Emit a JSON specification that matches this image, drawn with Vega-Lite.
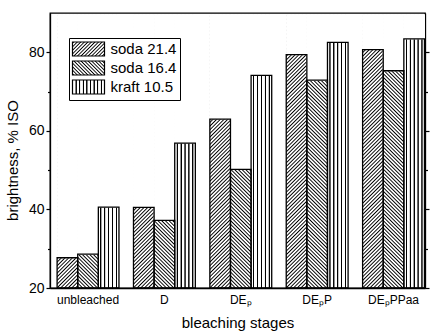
{
"$schema":"https://vega.github.io/schema/vega-lite/v6.json",
"width":375,"height":275,
"autosize":{"type":"none"},
"padding":{"left":50,"top":13,"right":5,"bottom":43},
"background":"white",
"config":{
"view":{"stroke":"#000","strokeWidth":1.3},
"font":"Arial",
"axis":{"labelFont":"Arial","titleFont":"Arial","labelColor":"#000","titleColor":"#000","domainColor":"#000","tickColor":"#000","domainWidth":1.3,"tickWidth":1.2,"grid":false,"titleFontWeight":"normal"}
},
"data":{"values":[
{"stage":"unbleached","pulp":"soda 21.4","value":27.7},
{"stage":"unbleached","pulp":"soda 16.4","value":28.6},
{"stage":"unbleached","pulp":"kraft 10.5","value":40.6},
{"stage":"D","pulp":"soda 21.4","value":40.5},
{"stage":"D","pulp":"soda 16.4","value":37.2},
{"stage":"D","pulp":"kraft 10.5","value":56.9},
{"stage":"DEₚ","pulp":"soda 21.4","value":63.0},
{"stage":"DEₚ","pulp":"soda 16.4","value":50.2},
{"stage":"DEₚ","pulp":"kraft 10.5","value":74.1},
{"stage":"DEₚP","pulp":"soda 21.4","value":79.4},
{"stage":"DEₚP","pulp":"soda 16.4","value":72.9},
{"stage":"DEₚP","pulp":"kraft 10.5","value":82.5},
{"stage":"DEₚPPaa","pulp":"soda 21.4","value":80.7},
{"stage":"DEₚPPaa","pulp":"soda 16.4","value":75.3},
{"stage":"DEₚPPaa","pulp":"kraft 10.5","value":83.4}
]},
"encoding":{
"x":{"field":"stage","type":"nominal","sort":null,"scale":{"paddingInner":0.19,"paddingOuter":0.05,"align":0.93},"axis":{"title":"bleaching stages","labelAngle":0,"ticks":false,"labelFontSize":12,"labelPadding":6,"titleFontSize":15,"titlePadding":10}},
"xOffset":{"field":"pulp","type":"nominal","sort":null,"scale":{"paddingInner":0,"paddingOuter":0}}
},
"layer":[
{"mark":{"type":"bar"},
"encoding":{
"y":{"datum":20,"type":"quantitative","scale":{"domain":[20,90],"nice":false,"zero":false},"axis":{"orient":"left","values":[20,30,40,50,60,70,80],"labelExpr":"datum.value % 20 === 0 ? datum.label : ''","tickSize":{"condition":{"test":"datum.value % 20 === 0","value":4},"value":2.5},"labelFontSize":14,"labelPadding":2,"labelOverlap":false,"labelFlush":false,"title":"brightness, % ISO","titleFontSize":15,"titlePadding":8,"titleY":147}},
"y2":{"datum":89.6},
"fill":{"field":"pulp","type":"nominal","sort":null,"legend":null,"scale":{"range":[
{"expr":"{gradient:'linear',x1:0,y1:0,x2:0.0804,y2:1.0692,stops:[{offset:0,color:'#fff'},{offset:0.0045,color:'#000'},{offset:0.009,color:'#fff'},{offset:0.0125,color:'#fff'},{offset:0.017,color:'#000'},{offset:0.0215,color:'#fff'},{offset:0.025,color:'#fff'},{offset:0.0295,color:'#000'},{offset:0.034,color:'#fff'},{offset:0.0375,color:'#fff'},{offset:0.042,color:'#000'},{offset:0.0465,color:'#fff'},{offset:0.05,color:'#fff'},{offset:0.0545,color:'#000'},{offset:0.059,color:'#fff'},{offset:0.0625,color:'#fff'},{offset:0.067,color:'#000'},{offset:0.0715,color:'#fff'},{offset:0.075,color:'#fff'},{offset:0.0795,color:'#000'},{offset:0.084,color:'#fff'},{offset:0.0875,color:'#fff'},{offset:0.092,color:'#000'},{offset:0.0965,color:'#fff'},{offset:0.1,color:'#fff'},{offset:0.1045,color:'#000'},{offset:0.109,color:'#fff'},{offset:0.1125,color:'#fff'},{offset:0.117,color:'#000'},{offset:0.1215,color:'#fff'},{offset:0.125,color:'#fff'},{offset:0.1295,color:'#000'},{offset:0.134,color:'#fff'},{offset:0.1375,color:'#fff'},{offset:0.142,color:'#000'},{offset:0.1465,color:'#fff'},{offset:0.15,color:'#fff'},{offset:0.1545,color:'#000'},{offset:0.159,color:'#fff'},{offset:0.1625,color:'#fff'},{offset:0.167,color:'#000'},{offset:0.1715,color:'#fff'},{offset:0.175,color:'#fff'},{offset:0.1795,color:'#000'},{offset:0.184,color:'#fff'},{offset:0.1875,color:'#fff'},{offset:0.192,color:'#000'},{offset:0.1965,color:'#fff'},{offset:0.2,color:'#fff'},{offset:0.2045,color:'#000'},{offset:0.209,color:'#fff'},{offset:0.2125,color:'#fff'},{offset:0.217,color:'#000'},{offset:0.2215,color:'#fff'},{offset:0.225,color:'#fff'},{offset:0.2295,color:'#000'},{offset:0.234,color:'#fff'},{offset:0.2375,color:'#fff'},{offset:0.242,color:'#000'},{offset:0.2465,color:'#fff'},{offset:0.25,color:'#fff'},{offset:0.2545,color:'#000'},{offset:0.259,color:'#fff'},{offset:0.2625,color:'#fff'},{offset:0.267,color:'#000'},{offset:0.2715,color:'#fff'},{offset:0.275,color:'#fff'},{offset:0.2795,color:'#000'},{offset:0.284,color:'#fff'},{offset:0.2875,color:'#fff'},{offset:0.292,color:'#000'},{offset:0.2965,color:'#fff'},{offset:0.3,color:'#fff'},{offset:0.3045,color:'#000'},{offset:0.309,color:'#fff'},{offset:0.3125,color:'#fff'},{offset:0.317,color:'#000'},{offset:0.3215,color:'#fff'},{offset:0.325,color:'#fff'},{offset:0.3295,color:'#000'},{offset:0.334,color:'#fff'},{offset:0.3375,color:'#fff'},{offset:0.342,color:'#000'},{offset:0.3465,color:'#fff'},{offset:0.35,color:'#fff'},{offset:0.3545,color:'#000'},{offset:0.359,color:'#fff'},{offset:0.3625,color:'#fff'},{offset:0.367,color:'#000'},{offset:0.3715,color:'#fff'},{offset:0.375,color:'#fff'},{offset:0.3795,color:'#000'},{offset:0.384,color:'#fff'},{offset:0.3875,color:'#fff'},{offset:0.392,color:'#000'},{offset:0.3965,color:'#fff'},{offset:0.4,color:'#fff'},{offset:0.4045,color:'#000'},{offset:0.409,color:'#fff'},{offset:0.4125,color:'#fff'},{offset:0.417,color:'#000'},{offset:0.4215,color:'#fff'},{offset:0.425,color:'#fff'},{offset:0.4295,color:'#000'},{offset:0.434,color:'#fff'},{offset:0.4375,color:'#fff'},{offset:0.442,color:'#000'},{offset:0.4465,color:'#fff'},{offset:0.45,color:'#fff'},{offset:0.4545,color:'#000'},{offset:0.459,color:'#fff'},{offset:0.4625,color:'#fff'},{offset:0.467,color:'#000'},{offset:0.4715,color:'#fff'},{offset:0.475,color:'#fff'},{offset:0.4795,color:'#000'},{offset:0.484,color:'#fff'},{offset:0.4875,color:'#fff'},{offset:0.492,color:'#000'},{offset:0.4965,color:'#fff'},{offset:0.5,color:'#fff'},{offset:0.5045,color:'#000'},{offset:0.509,color:'#fff'},{offset:0.5125,color:'#fff'},{offset:0.517,color:'#000'},{offset:0.5215,color:'#fff'},{offset:0.525,color:'#fff'},{offset:0.5295,color:'#000'},{offset:0.534,color:'#fff'},{offset:0.5375,color:'#fff'},{offset:0.542,color:'#000'},{offset:0.5465,color:'#fff'},{offset:0.55,color:'#fff'},{offset:0.5545,color:'#000'},{offset:0.559,color:'#fff'},{offset:0.5625,color:'#fff'},{offset:0.567,color:'#000'},{offset:0.5715,color:'#fff'},{offset:0.575,color:'#fff'},{offset:0.5795,color:'#000'},{offset:0.584,color:'#fff'},{offset:0.5875,color:'#fff'},{offset:0.592,color:'#000'},{offset:0.5965,color:'#fff'},{offset:0.6,color:'#fff'},{offset:0.6045,color:'#000'},{offset:0.609,color:'#fff'},{offset:0.6125,color:'#fff'},{offset:0.617,color:'#000'},{offset:0.6215,color:'#fff'},{offset:0.625,color:'#fff'},{offset:0.6295,color:'#000'},{offset:0.634,color:'#fff'},{offset:0.6375,color:'#fff'},{offset:0.642,color:'#000'},{offset:0.6465,color:'#fff'},{offset:0.65,color:'#fff'},{offset:0.6545,color:'#000'},{offset:0.659,color:'#fff'},{offset:0.6625,color:'#fff'},{offset:0.667,color:'#000'},{offset:0.6715,color:'#fff'},{offset:0.675,color:'#fff'},{offset:0.6795,color:'#000'},{offset:0.684,color:'#fff'},{offset:0.6875,color:'#fff'},{offset:0.692,color:'#000'},{offset:0.6965,color:'#fff'},{offset:0.7,color:'#fff'},{offset:0.7045,color:'#000'},{offset:0.709,color:'#fff'},{offset:0.7125,color:'#fff'},{offset:0.717,color:'#000'},{offset:0.7215,color:'#fff'},{offset:0.725,color:'#fff'},{offset:0.7295,color:'#000'},{offset:0.734,color:'#fff'},{offset:0.7375,color:'#fff'},{offset:0.742,color:'#000'},{offset:0.7465,color:'#fff'},{offset:0.75,color:'#fff'},{offset:0.7545,color:'#000'},{offset:0.759,color:'#fff'},{offset:0.7625,color:'#fff'},{offset:0.767,color:'#000'},{offset:0.7715,color:'#fff'},{offset:0.775,color:'#fff'},{offset:0.7795,color:'#000'},{offset:0.784,color:'#fff'},{offset:0.7875,color:'#fff'},{offset:0.792,color:'#000'},{offset:0.7965,color:'#fff'},{offset:0.8,color:'#fff'},{offset:0.8045,color:'#000'},{offset:0.809,color:'#fff'},{offset:0.8125,color:'#fff'},{offset:0.817,color:'#000'},{offset:0.8215,color:'#fff'},{offset:0.825,color:'#fff'},{offset:0.8295,color:'#000'},{offset:0.834,color:'#fff'},{offset:0.8375,color:'#fff'},{offset:0.842,color:'#000'},{offset:0.8465,color:'#fff'},{offset:0.85,color:'#fff'},{offset:0.8545,color:'#000'},{offset:0.859,color:'#fff'},{offset:0.8625,color:'#fff'},{offset:0.867,color:'#000'},{offset:0.8715,color:'#fff'},{offset:0.875,color:'#fff'},{offset:0.8795,color:'#000'},{offset:0.884,color:'#fff'},{offset:0.8875,color:'#fff'},{offset:0.892,color:'#000'},{offset:0.8965,color:'#fff'},{offset:0.9,color:'#fff'},{offset:0.9045,color:'#000'},{offset:0.909,color:'#fff'},{offset:0.9125,color:'#fff'},{offset:0.917,color:'#000'},{offset:0.9215,color:'#fff'},{offset:0.925,color:'#fff'},{offset:0.9295,color:'#000'},{offset:0.934,color:'#fff'},{offset:0.9375,color:'#fff'},{offset:0.942,color:'#000'},{offset:0.9465,color:'#fff'},{offset:0.95,color:'#fff'},{offset:0.9545,color:'#000'},{offset:0.959,color:'#fff'},{offset:0.9625,color:'#fff'},{offset:0.967,color:'#000'},{offset:0.9715,color:'#fff'},{offset:0.975,color:'#fff'},{offset:0.9795,color:'#000'},{offset:0.984,color:'#fff'},{offset:0.9875,color:'#fff'},{offset:0.992,color:'#000'},{offset:0.9965,color:'#fff'}]}"},
{"expr":"{gradient:'linear',x1:0,y1:1,x2:0.0804,y2:-0.0692,stops:[{offset:0,color:'#fff'},{offset:0.0045,color:'#000'},{offset:0.009,color:'#fff'},{offset:0.0125,color:'#fff'},{offset:0.017,color:'#000'},{offset:0.0215,color:'#fff'},{offset:0.025,color:'#fff'},{offset:0.0295,color:'#000'},{offset:0.034,color:'#fff'},{offset:0.0375,color:'#fff'},{offset:0.042,color:'#000'},{offset:0.0465,color:'#fff'},{offset:0.05,color:'#fff'},{offset:0.0545,color:'#000'},{offset:0.059,color:'#fff'},{offset:0.0625,color:'#fff'},{offset:0.067,color:'#000'},{offset:0.0715,color:'#fff'},{offset:0.075,color:'#fff'},{offset:0.0795,color:'#000'},{offset:0.084,color:'#fff'},{offset:0.0875,color:'#fff'},{offset:0.092,color:'#000'},{offset:0.0965,color:'#fff'},{offset:0.1,color:'#fff'},{offset:0.1045,color:'#000'},{offset:0.109,color:'#fff'},{offset:0.1125,color:'#fff'},{offset:0.117,color:'#000'},{offset:0.1215,color:'#fff'},{offset:0.125,color:'#fff'},{offset:0.1295,color:'#000'},{offset:0.134,color:'#fff'},{offset:0.1375,color:'#fff'},{offset:0.142,color:'#000'},{offset:0.1465,color:'#fff'},{offset:0.15,color:'#fff'},{offset:0.1545,color:'#000'},{offset:0.159,color:'#fff'},{offset:0.1625,color:'#fff'},{offset:0.167,color:'#000'},{offset:0.1715,color:'#fff'},{offset:0.175,color:'#fff'},{offset:0.1795,color:'#000'},{offset:0.184,color:'#fff'},{offset:0.1875,color:'#fff'},{offset:0.192,color:'#000'},{offset:0.1965,color:'#fff'},{offset:0.2,color:'#fff'},{offset:0.2045,color:'#000'},{offset:0.209,color:'#fff'},{offset:0.2125,color:'#fff'},{offset:0.217,color:'#000'},{offset:0.2215,color:'#fff'},{offset:0.225,color:'#fff'},{offset:0.2295,color:'#000'},{offset:0.234,color:'#fff'},{offset:0.2375,color:'#fff'},{offset:0.242,color:'#000'},{offset:0.2465,color:'#fff'},{offset:0.25,color:'#fff'},{offset:0.2545,color:'#000'},{offset:0.259,color:'#fff'},{offset:0.2625,color:'#fff'},{offset:0.267,color:'#000'},{offset:0.2715,color:'#fff'},{offset:0.275,color:'#fff'},{offset:0.2795,color:'#000'},{offset:0.284,color:'#fff'},{offset:0.2875,color:'#fff'},{offset:0.292,color:'#000'},{offset:0.2965,color:'#fff'},{offset:0.3,color:'#fff'},{offset:0.3045,color:'#000'},{offset:0.309,color:'#fff'},{offset:0.3125,color:'#fff'},{offset:0.317,color:'#000'},{offset:0.3215,color:'#fff'},{offset:0.325,color:'#fff'},{offset:0.3295,color:'#000'},{offset:0.334,color:'#fff'},{offset:0.3375,color:'#fff'},{offset:0.342,color:'#000'},{offset:0.3465,color:'#fff'},{offset:0.35,color:'#fff'},{offset:0.3545,color:'#000'},{offset:0.359,color:'#fff'},{offset:0.3625,color:'#fff'},{offset:0.367,color:'#000'},{offset:0.3715,color:'#fff'},{offset:0.375,color:'#fff'},{offset:0.3795,color:'#000'},{offset:0.384,color:'#fff'},{offset:0.3875,color:'#fff'},{offset:0.392,color:'#000'},{offset:0.3965,color:'#fff'},{offset:0.4,color:'#fff'},{offset:0.4045,color:'#000'},{offset:0.409,color:'#fff'},{offset:0.4125,color:'#fff'},{offset:0.417,color:'#000'},{offset:0.4215,color:'#fff'},{offset:0.425,color:'#fff'},{offset:0.4295,color:'#000'},{offset:0.434,color:'#fff'},{offset:0.4375,color:'#fff'},{offset:0.442,color:'#000'},{offset:0.4465,color:'#fff'},{offset:0.45,color:'#fff'},{offset:0.4545,color:'#000'},{offset:0.459,color:'#fff'},{offset:0.4625,color:'#fff'},{offset:0.467,color:'#000'},{offset:0.4715,color:'#fff'},{offset:0.475,color:'#fff'},{offset:0.4795,color:'#000'},{offset:0.484,color:'#fff'},{offset:0.4875,color:'#fff'},{offset:0.492,color:'#000'},{offset:0.4965,color:'#fff'},{offset:0.5,color:'#fff'},{offset:0.5045,color:'#000'},{offset:0.509,color:'#fff'},{offset:0.5125,color:'#fff'},{offset:0.517,color:'#000'},{offset:0.5215,color:'#fff'},{offset:0.525,color:'#fff'},{offset:0.5295,color:'#000'},{offset:0.534,color:'#fff'},{offset:0.5375,color:'#fff'},{offset:0.542,color:'#000'},{offset:0.5465,color:'#fff'},{offset:0.55,color:'#fff'},{offset:0.5545,color:'#000'},{offset:0.559,color:'#fff'},{offset:0.5625,color:'#fff'},{offset:0.567,color:'#000'},{offset:0.5715,color:'#fff'},{offset:0.575,color:'#fff'},{offset:0.5795,color:'#000'},{offset:0.584,color:'#fff'},{offset:0.5875,color:'#fff'},{offset:0.592,color:'#000'},{offset:0.5965,color:'#fff'},{offset:0.6,color:'#fff'},{offset:0.6045,color:'#000'},{offset:0.609,color:'#fff'},{offset:0.6125,color:'#fff'},{offset:0.617,color:'#000'},{offset:0.6215,color:'#fff'},{offset:0.625,color:'#fff'},{offset:0.6295,color:'#000'},{offset:0.634,color:'#fff'},{offset:0.6375,color:'#fff'},{offset:0.642,color:'#000'},{offset:0.6465,color:'#fff'},{offset:0.65,color:'#fff'},{offset:0.6545,color:'#000'},{offset:0.659,color:'#fff'},{offset:0.6625,color:'#fff'},{offset:0.667,color:'#000'},{offset:0.6715,color:'#fff'},{offset:0.675,color:'#fff'},{offset:0.6795,color:'#000'},{offset:0.684,color:'#fff'},{offset:0.6875,color:'#fff'},{offset:0.692,color:'#000'},{offset:0.6965,color:'#fff'},{offset:0.7,color:'#fff'},{offset:0.7045,color:'#000'},{offset:0.709,color:'#fff'},{offset:0.7125,color:'#fff'},{offset:0.717,color:'#000'},{offset:0.7215,color:'#fff'},{offset:0.725,color:'#fff'},{offset:0.7295,color:'#000'},{offset:0.734,color:'#fff'},{offset:0.7375,color:'#fff'},{offset:0.742,color:'#000'},{offset:0.7465,color:'#fff'},{offset:0.75,color:'#fff'},{offset:0.7545,color:'#000'},{offset:0.759,color:'#fff'},{offset:0.7625,color:'#fff'},{offset:0.767,color:'#000'},{offset:0.7715,color:'#fff'},{offset:0.775,color:'#fff'},{offset:0.7795,color:'#000'},{offset:0.784,color:'#fff'},{offset:0.7875,color:'#fff'},{offset:0.792,color:'#000'},{offset:0.7965,color:'#fff'},{offset:0.8,color:'#fff'},{offset:0.8045,color:'#000'},{offset:0.809,color:'#fff'},{offset:0.8125,color:'#fff'},{offset:0.817,color:'#000'},{offset:0.8215,color:'#fff'},{offset:0.825,color:'#fff'},{offset:0.8295,color:'#000'},{offset:0.834,color:'#fff'},{offset:0.8375,color:'#fff'},{offset:0.842,color:'#000'},{offset:0.8465,color:'#fff'},{offset:0.85,color:'#fff'},{offset:0.8545,color:'#000'},{offset:0.859,color:'#fff'},{offset:0.8625,color:'#fff'},{offset:0.867,color:'#000'},{offset:0.8715,color:'#fff'},{offset:0.875,color:'#fff'},{offset:0.8795,color:'#000'},{offset:0.884,color:'#fff'},{offset:0.8875,color:'#fff'},{offset:0.892,color:'#000'},{offset:0.8965,color:'#fff'},{offset:0.9,color:'#fff'},{offset:0.9045,color:'#000'},{offset:0.909,color:'#fff'},{offset:0.9125,color:'#fff'},{offset:0.917,color:'#000'},{offset:0.9215,color:'#fff'},{offset:0.925,color:'#fff'},{offset:0.9295,color:'#000'},{offset:0.934,color:'#fff'},{offset:0.9375,color:'#fff'},{offset:0.942,color:'#000'},{offset:0.9465,color:'#fff'},{offset:0.95,color:'#fff'},{offset:0.9545,color:'#000'},{offset:0.959,color:'#fff'},{offset:0.9625,color:'#fff'},{offset:0.967,color:'#000'},{offset:0.9715,color:'#fff'},{offset:0.975,color:'#fff'},{offset:0.9795,color:'#000'},{offset:0.984,color:'#fff'},{offset:0.9875,color:'#fff'},{offset:0.992,color:'#000'},{offset:0.9965,color:'#fff'}]}"},
{"expr":"{gradient:'linear',x1:0,y1:0,x2:1,y2:0,stops:[{offset:0.081,color:'#fff'},{offset:0.103,color:'#000'},{offset:0.139,color:'#000'},{offset:0.161,color:'#fff'},{offset:0.271,color:'#fff'},{offset:0.293,color:'#000'},{offset:0.329,color:'#000'},{offset:0.351,color:'#fff'},{offset:0.46,color:'#fff'},{offset:0.482,color:'#000'},{offset:0.518,color:'#000'},{offset:0.54,color:'#fff'},{offset:0.649,color:'#fff'},{offset:0.671,color:'#000'},{offset:0.707,color:'#000'},{offset:0.729,color:'#fff'},{offset:0.839,color:'#fff'},{offset:0.861,color:'#000'},{offset:0.897,color:'#000'},{offset:0.919,color:'#fff'}]}"}
]}}
}},
{"mark":{"type":"bar","fill":"white","stroke":"white","strokeWidth":1},
"encoding":{
"y":{"field":"value","type":"quantitative","axis":null},
"y2":{"datum":89.6}
}},
{"mark":{"type":"bar","fillOpacity":0,"stroke":"#000","strokeWidth":1.3},
"encoding":{
"y":{"field":"value","type":"quantitative","axis":{"orient":"right","values":[20,30,40,50,60,70,80],"labels":false,"title":null,"tickSize":{"condition":{"test":"datum.value % 20 === 0","value":4},"value":2.5}}},
"y2":{"datum":20}
}},
{"mark":{"type":"bar","stroke":"#000","strokeWidth":1.2},
"encoding":{
"y":{"datum":20,"type":"quantitative","axis":null},
"y2":{"datum":20},
"color":{"field":"pulp","type":"nominal","sort":null,
"legend":{"orient":"none","legendX":19,"legendY":25,"title":null,"symbolType":"M-1.875,-1.75H6.125V1.75H-1.875Z","symbolSize":64,"symbolStrokeColor":"#000","symbolStrokeWidth":1.2,"labelFontSize":15,"labelFont":"Arial","labelColor":"#000","padding":3.5,"rowPadding":0,"strokeColor":"#000","fillColor":"white","labelOffset":23},
"scale":{"domain":["soda 21.4","soda 16.4","kraft 10.5"],"range":[
{"expr":"{gradient:'linear',x1:0,y1:0,x2:1.2066,y2:0.5279,stops:[{offset:0,color:'#fff'},{offset:0.0277,color:'#000'},{offset:0.0554,color:'#fff'},{offset:0.0769,color:'#fff'},{offset:0.1046,color:'#000'},{offset:0.1323,color:'#fff'},{offset:0.1538,color:'#fff'},{offset:0.1815,color:'#000'},{offset:0.2092,color:'#fff'},{offset:0.2308,color:'#fff'},{offset:0.2585,color:'#000'},{offset:0.2862,color:'#fff'},{offset:0.3077,color:'#fff'},{offset:0.3354,color:'#000'},{offset:0.3631,color:'#fff'},{offset:0.3846,color:'#fff'},{offset:0.4123,color:'#000'},{offset:0.44,color:'#fff'},{offset:0.4615,color:'#fff'},{offset:0.4892,color:'#000'},{offset:0.5169,color:'#fff'},{offset:0.5385,color:'#fff'},{offset:0.5662,color:'#000'},{offset:0.5939,color:'#fff'},{offset:0.6154,color:'#fff'},{offset:0.6431,color:'#000'},{offset:0.6708,color:'#fff'},{offset:0.6923,color:'#fff'},{offset:0.72,color:'#000'},{offset:0.7477,color:'#fff'},{offset:0.7692,color:'#fff'},{offset:0.7969,color:'#000'},{offset:0.8246,color:'#fff'},{offset:0.8462,color:'#fff'},{offset:0.8739,color:'#000'},{offset:0.9016,color:'#fff'},{offset:0.9231,color:'#fff'},{offset:0.9508,color:'#000'},{offset:0.9785,color:'#fff'}]}"},
{"expr":"{gradient:'linear',x1:0,y1:1,x2:1.2066,y2:0.4721,stops:[{offset:0,color:'#fff'},{offset:0.0277,color:'#000'},{offset:0.0554,color:'#fff'},{offset:0.0769,color:'#fff'},{offset:0.1046,color:'#000'},{offset:0.1323,color:'#fff'},{offset:0.1538,color:'#fff'},{offset:0.1815,color:'#000'},{offset:0.2092,color:'#fff'},{offset:0.2308,color:'#fff'},{offset:0.2585,color:'#000'},{offset:0.2862,color:'#fff'},{offset:0.3077,color:'#fff'},{offset:0.3354,color:'#000'},{offset:0.3631,color:'#fff'},{offset:0.3846,color:'#fff'},{offset:0.4123,color:'#000'},{offset:0.44,color:'#fff'},{offset:0.4615,color:'#fff'},{offset:0.4892,color:'#000'},{offset:0.5169,color:'#fff'},{offset:0.5385,color:'#fff'},{offset:0.5662,color:'#000'},{offset:0.5939,color:'#fff'},{offset:0.6154,color:'#fff'},{offset:0.6431,color:'#000'},{offset:0.6708,color:'#fff'},{offset:0.6923,color:'#fff'},{offset:0.72,color:'#000'},{offset:0.7477,color:'#fff'},{offset:0.7692,color:'#fff'},{offset:0.7969,color:'#000'},{offset:0.8246,color:'#fff'},{offset:0.8462,color:'#fff'},{offset:0.8739,color:'#000'},{offset:0.9016,color:'#fff'},{offset:0.9231,color:'#fff'},{offset:0.9508,color:'#000'},{offset:0.9785,color:'#fff'}]}"},
{"expr":"{gradient:'linear',x1:0,y1:0,x2:1,y2:0,stops:[{offset:0.0865,color:'#fff'},{offset:0.101,color:'#000'},{offset:0.124,color:'#000'},{offset:0.1385,color:'#fff'},{offset:0.199,color:'#fff'},{offset:0.2135,color:'#000'},{offset:0.2365,color:'#000'},{offset:0.251,color:'#fff'},{offset:0.3115,color:'#fff'},{offset:0.326,color:'#000'},{offset:0.349,color:'#000'},{offset:0.3635,color:'#fff'},{offset:0.424,color:'#fff'},{offset:0.4385,color:'#000'},{offset:0.4615,color:'#000'},{offset:0.476,color:'#fff'},{offset:0.5365,color:'#fff'},{offset:0.551,color:'#000'},{offset:0.574,color:'#000'},{offset:0.5885,color:'#fff'},{offset:0.649,color:'#fff'},{offset:0.6635,color:'#000'},{offset:0.6865,color:'#000'},{offset:0.701,color:'#fff'},{offset:0.7615,color:'#fff'},{offset:0.776,color:'#000'},{offset:0.799,color:'#000'},{offset:0.8135,color:'#fff'},{offset:0.874,color:'#fff'},{offset:0.8885,color:'#000'},{offset:0.9115,color:'#000'},{offset:0.926,color:'#fff'}]}"}
]}}
}}
],
"resolve":{"axis":{"y":"independent"}}
}
